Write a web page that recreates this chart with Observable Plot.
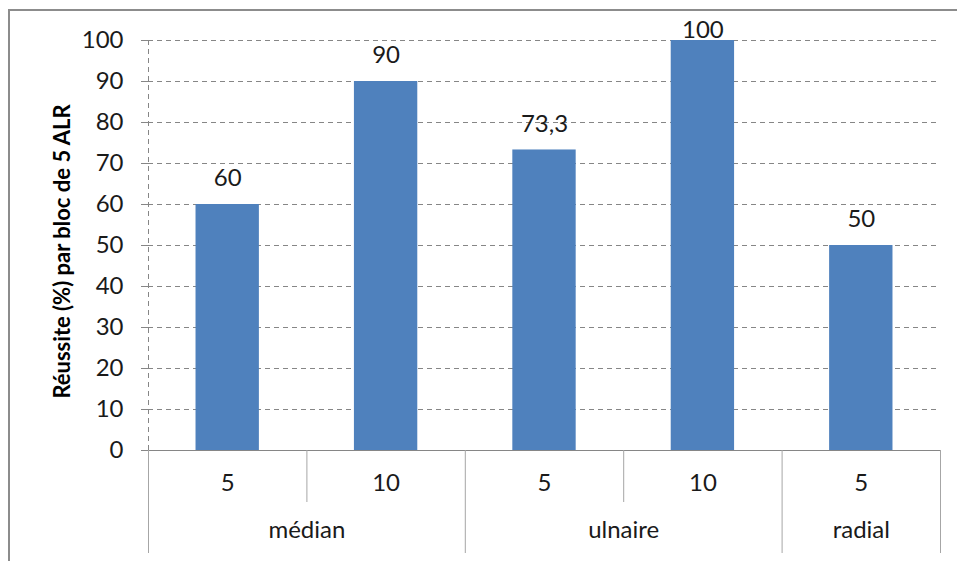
<!DOCTYPE html>
<html>
<head>
<meta charset="utf-8">
<script src="https://cdn.jsdelivr.net/npm/d3@7"></script>
<script src="https://cdn.jsdelivr.net/npm/@observablehq/plot@0.6"></script>
<style>
  html, body { margin: 0; padding: 0; background: #fff; overflow: hidden; }
  #wrap { position: relative; width: 957px; height: 561px; overflow: hidden; }
  #border { position: absolute; left: 8px; top: 9px; width: 1200px; height: 1200px;
            border-top: 2px solid #8c8c8c; border-left: 2px solid #8c8c8c; pointer-events: none; }
  #chart { position: absolute; left: 0; top: 0; }
</style>
</head>
<body>
<div id="wrap"><div id="chart"></div><div id="border"></div></div>
<script>
// ---- data ----
const groups = ["médian", "médian", "ulnaire", "ulnaire", "radial"];
const blocks = ["5", "10", "5", "10", "5"];
const values = [60, 90, 73.3, 100, 50];
const valueLabels = ["60", "90", "73,3", "100", "50"];
const yTicks = [0, 10, 20, 30, 40, 50, 60, 70, 80, 90, 100];
const yTitle = "Réussite (%) par bloc de 5 ALR";

// ---- derived tables ----
const data = values.map((v, i) => ({ i, group: groups[i], block: blocks[i], value: v, label: valueLabels[i] }));
const spans = [];
groups.forEach((g, i) => {
  const last = spans[spans.length - 1];
  if (last && last.group === g) last.count++;
  else spans.push({ group: g, start: i, count: 1 });
});
const boundaries = d3.range(groups.length + 1).map(k => ({
  pos: k,
  inner: k > 0 && k < groups.length && groups[k - 1] === groups[k]
}));

const W = 957, H = 561, ML = 148, MR = 17, MT = 40, MB = 111;
const step = (W - ML - MR) / groups.length;
const barInset = step * 0.3;
const grid = "#868686";
const catLine = "#a6a6a6";
const font = "Lato, 'Open Sans', sans-serif";
const fs = 24;

const chart = Plot.plot({
  width: W, height: H,
  marginLeft: ML, marginRight: MR, marginTop: MT, marginBottom: MB,
  style: { fontFamily: font, fontSize: fs + "px", color: "#1a1a1a", background: "transparent" },
  x: { type: "linear", domain: [0, groups.length], axis: null },
  y: { domain: [0, 100], axis: null },
  marks: [
    Plot.ruleY(yTicks.filter(t => t > 0), { y: d => d, stroke: grid, strokeDasharray: "5,4", strokeWidth: 1 }),
    Plot.ruleX([0], { x: d => d, stroke: grid, strokeDasharray: "5,4", strokeWidth: 1 }),
    Plot.rectY(data, { x1: d => d.i, x2: d => d.i + 1, y: "value", fill: "#4f81bd", insetLeft: barInset, insetRight: barInset }),
    Plot.ruleY([0], { y: d => d, stroke: grid, strokeWidth: 1 }),
    Plot.ruleX(boundaries.filter(b => !b.inner), { x: "pos", y1: 0, y2: 0, insetBottom: -103, stroke: catLine, strokeWidth: 1 }),
    Plot.ruleX(boundaries.filter(b => b.inner), { x: "pos", y1: 0, y2: 0, insetBottom: -52, stroke: catLine, strokeWidth: 1 }),
    Plot.axisY({ ticks: yTicks, tickSize: 7, tickPadding: 18, stroke: grid, fill: "#1a1a1a", fontSize: fs, label: null, tickFormat: d => String(d) }),
    Plot.text(data, { x: d => d.i + 0.5, frameAnchor: "bottom", dy: 40, text: "block", fontSize: fs, fill: "#1a1a1a" }),
    Plot.text(spans, { x: d => d.start + d.count / 2, frameAnchor: "bottom", dy: 87, text: "group", fontSize: fs, fill: "#1a1a1a" }),
    Plot.text(data.filter(d => d.value < 95), { x: d => d.i + 0.5, y: "value", dy: -26, text: "label", fontSize: fs, fill: "#1a1a1a" }),
    Plot.text(data.filter(d => d.value >= 95), { x: d => d.i + 0.5, y: "value", dy: -10, text: "label", fontSize: fs, fill: "#1a1a1a" }),
    Plot.text([yTitle], { frameAnchor: "left", textAnchor: "middle", dx: -86, dy: 6, rotate: -90, text: d => d, fontWeight: "bold", fontSize: 22, fill: "#000" })
  ]
});
document.getElementById("chart").appendChild(chart);
</script>
</body>
</html>
